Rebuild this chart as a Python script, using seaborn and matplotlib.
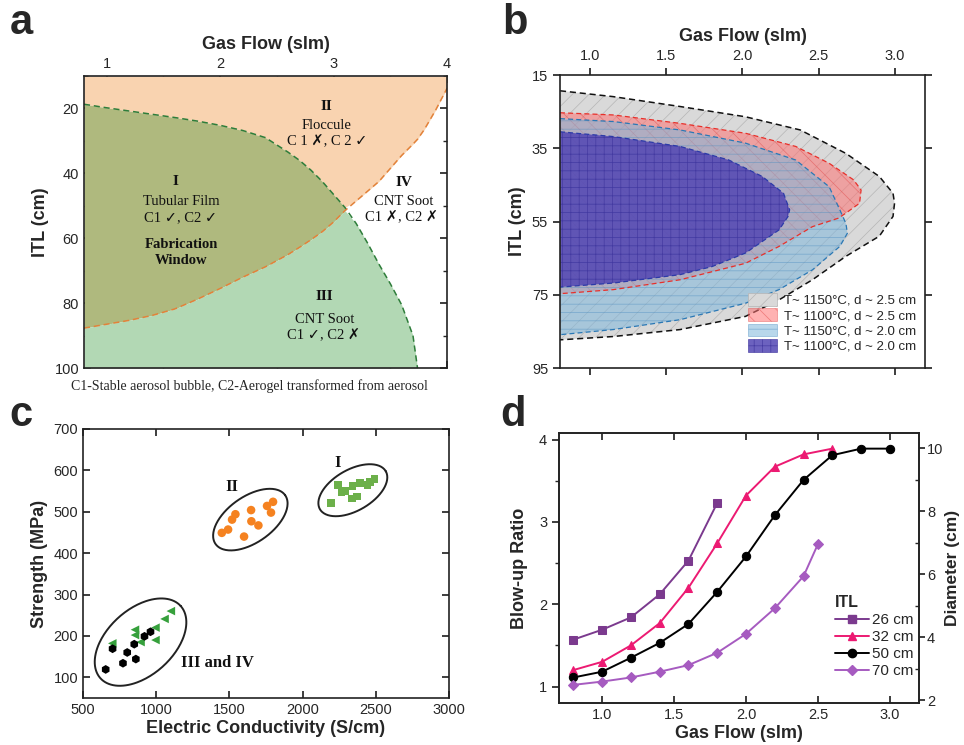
import numpy as np
import pandas as pd
import seaborn as sns
import matplotlib.pyplot as plt
from matplotlib.patches import Patch
from matplotlib.lines import Line2D
from matplotlib.ticker import MultipleLocator

sns.set_theme(style="ticks")
plt.rcParams['font.family'] = ['Liberation Sans', 'DejaVu Sans']
plt.rcParams['hatch.linewidth'] = 0.5
plt.rcParams['axes.linewidth'] = 1.2
SERIF = ['Liberation Serif', 'DejaVu Sans']

# ---------------- panel a: process map ----------------
flow_a = [0.8, 1.0, 1.2, 1.4, 1.6, 1.8, 2.0, 2.2, 2.4, 2.6, 2.7, 2.8, 2.9, 3.0, 3.1,
          3.2, 3.3, 3.4, 3.5, 3.6, 3.7, 3.74, 3.8, 3.9, 4.0]
green_edge = [18.7, 19.8, 20.8, 21.8, 22.8, 23.9, 25.2, 26.8, 29.0, 33.5, 36.0, 39.0, 42.5,
              46.5, 50.5, 55.5, 61.5, 68.0, 74.0, 80.5, 90.0, 100.0, np.nan, np.nan, np.nan]
orange_edge = [87.7, 86.5, 85.3, 83.8, 81.8, 78.8, 75.5, 72.0, 68.8, 65.0, 62.8, 60.5, 58.0,
               55.0, 51.5, 48.5, 45.5, 42.5, 38.5, 34.5, 31.0, 29.5, 26.5, 20.5, 13.8]

# ---------------- panel b: windows (ITL -> max gas flow) ----------------
itl_1150_25 = [19.3, 20.9, 23.6, 26.4, 30.0, 36.4, 42.7, 47.3, 50.0, 53.6, 59.0, 64.5, 70.9,
               76.4, 80.9, 84.5, 86.4, 87.3]
flow_1150_25 = [0.8, 1.15, 1.59, 2.02, 2.38, 2.68, 2.90, 2.99, 3.0, 2.99, 2.90, 2.68, 2.46,
                2.24, 2.02, 1.59, 1.15, 0.8]
itl_1100_25 = [25.3, 25.9, 28.2, 30.9, 34.5, 39.1, 43.6, 46.4, 50.0, 52.7, 54.1, 56.4, 61.8,
               66.4, 70.9, 73.6, 74.7]
flow_1100_25 = [0.8, 1.15, 1.59, 2.02, 2.35, 2.57, 2.73, 2.78, 2.77, 2.68, 2.63, 2.46, 2.24,
                2.02, 1.59, 1.15, 0.8]
itl_1150_20 = [26.9, 27.7, 30.0, 33.6, 38.2, 45.5, 51.8, 55.5, 58.2, 61.8, 68.2, 73.6, 77.3,
               81.8, 84.5, 85.9]
flow_1150_20 = [0.8, 1.15, 1.59, 2.02, 2.35, 2.57, 2.64, 2.68, 2.69, 2.64, 2.46, 2.24, 2.02,
                1.59, 1.15, 0.8]
itl_1100_20 = [30.5, 31.8, 34.5, 38.2, 42.7, 47.3, 51.8, 53.6, 57.3, 63.6, 67.3, 69.5, 71.8, 72.9]
flow_1100_20 = [0.8, 1.15, 1.59, 1.91, 2.13, 2.27, 2.31, 2.30, 2.24, 2.02, 1.80, 1.59, 1.15, 0.8]

# ---------------- panel c: strength vs conductivity ----------------
cond_I = [2193, 2243, 2266, 2291, 2341, 2336, 2370, 2393, 2443, 2461, 2491]
str_I = [521, 565, 547, 551, 563, 532, 537, 569, 565, 571, 580]
cond_II = [1448, 1491, 1518, 1541, 1600, 1648, 1650, 1698, 1757, 1784, 1798]
str_II = [449, 457, 481, 494, 440, 504, 477, 467, 514, 498, 524]
cond_III = [655, 702, 773, 802, 850, 861, 920, 961]
str_III = [119, 169, 134, 160, 180, 144, 199, 210]
cond_IV = [700, 855, 855, 893, 995, 995, 1057, 1100]
str_IV = [182, 215, 202, 185, 220, 190, 241, 260]

# ---------------- panel d: blow-up ratio ----------------
flow_26 = [0.8, 1.0, 1.2, 1.4, 1.6, 1.8]
ratio_26 = [1.57, 1.69, 1.84, 2.12, 2.53, 3.23]
flow_32 = [0.8, 1.0, 1.2, 1.4, 1.6, 1.8, 2.0, 2.2, 2.4, 2.6]
ratio_32 = [1.20, 1.30, 1.50, 1.77, 2.20, 2.74, 3.32, 3.67, 3.82, 3.89]
flow_50 = [0.8, 1.0, 1.2, 1.4, 1.6, 1.8, 2.0, 2.2, 2.4, 2.6, 2.8, 3.0]
ratio_50 = [1.11, 1.18, 1.35, 1.53, 1.76, 2.15, 2.58, 3.08, 3.51, 3.81, 3.89, 3.89]
flow_70 = [0.8, 1.0, 1.2, 1.4, 1.6, 1.8, 2.0, 2.2, 2.4, 2.5]
ratio_70 = [1.02, 1.06, 1.11, 1.18, 1.26, 1.41, 1.64, 1.95, 2.34, 2.73]

fig = plt.figure(figsize=(9.64, 7.45), dpi=100)
ax_a = fig.add_axes([0.0871, 0.506, 0.3766, 0.392])
ax_b = fig.add_axes([0.5809, 0.506, 0.3786, 0.3933])
ax_c = fig.add_axes([0.0861, 0.0631, 0.3797, 0.3611])
ax_d = fig.add_axes([0.5799, 0.0564, 0.3730, 0.3624])

# ---- a ----
x = np.array(flow_a)
g = np.array(green_edge)
o = np.array(orange_edge)
g_fill = np.where(np.isnan(g), 100, g)
ax_a.fill_between(x, 10, np.minimum(g_fill, o), color='#f9d3b0', lw=0)
ax_a.fill_between(x, g_fill, o, where=g_fill <= o, interpolate=True, color='#afb97e', lw=0)
ax_a.fill_between(x, np.maximum(g_fill, o), 100, color='#b2d8b4', lw=0)
ax_a.plot(x, g, ls=(0, (4, 2.5)), color='#2e7d3a', lw=1.1)
ax_a.plot(x, o, ls=(0, (4, 2.5)), color='#e2823a', lw=1.1)
ax_a.set_xlim(0.8, 4.0)
ax_a.set_ylim(100, 10)
ax_a.xaxis.tick_top()
ax_a.xaxis.set_label_position('top')
ax_a.xaxis.set_major_locator(MultipleLocator(1))
ax_a.xaxis.set_minor_locator(MultipleLocator(0.5))
ax_a.yaxis.set_major_locator(MultipleLocator(20))
ax_a.yaxis.set_minor_locator(MultipleLocator(10))
ax_a.tick_params(axis='x', which='both', direction='in', top=True, bottom=True, labelsize=10.5)
ax_a.tick_params(axis='y', which='both', direction='in', left=True, right=True, labelsize=10.5)
ax_a.tick_params(which='major', length=5)
ax_a.tick_params(which='minor', length=3)
ax_a.set_xlabel('Gas Flow (slm)', fontsize=13, fontweight='bold', labelpad=6)
ax_a.set_ylabel('ITL (cm)', fontsize=13, fontweight='bold', labelpad=4)

def txt(ax, xx, yy, s, size=10.5, bold=False):
    ax.text(xx, yy, s, ha='center', va='center', fontsize=size, family=SERIF,
            fontweight='bold' if bold else 'normal', color='#111111')

txt(ax_a, 2.94, 19.3, 'II', 11, True)
txt(ax_a, 2.94, 25.4, 'Floccule')
txt(ax_a, 2.94, 30.3, 'C 1 ✗, C 2 ✓')
txt(ax_a, 1.61, 42.4, 'I', 11, True)
txt(ax_a, 1.66, 48.7, 'Tubular Film')
txt(ax_a, 1.65, 53.8, 'C1 ✓, C2 ✓')
txt(ax_a, 1.66, 62.0, 'Fabrication', 10.5, True)
txt(ax_a, 1.66, 66.9, 'Window', 10.5, True)
txt(ax_a, 3.62, 42.9, 'IV', 11, True)
txt(ax_a, 3.62, 48.7, 'CNT Soot')
txt(ax_a, 3.60, 53.8, 'C1 ✗, C2 ✗')
txt(ax_a, 2.92, 78.0, 'III', 11, True)
txt(ax_a, 2.92, 85.1, 'CNT Soot')
txt(ax_a, 2.91, 90.0, 'C1 ✓, C2 ✗')
fig.text(0.259, 0.482, 'C1-Stable aerosol bubble, C2-Aerogel transformed from aerosol',
         ha='center', va='center', fontsize=10, family=SERIF)

# ---- b ----
windows = [
    (itl_1150_25, flow_1150_25, '#d9d9d9', 1.0, '//', '#b5b5b5', '#111111', 'T~ 1150°C, d ~ 2.5 cm'),
    (itl_1100_25, flow_1100_25, '#ff7373', 0.55, '\\\\', '#e04848', '#e8302a', 'T~ 1100°C, d ~ 2.5 cm'),
    (itl_1150_20, flow_1150_20, '#7fb7dc', 0.55, '--', '#4a8cc0', '#2a78b5', 'T~ 1150°C, d ~ 2.0 cm'),
    (itl_1100_20, flow_1100_20, '#5246b4', 0.85, '++', '#40369e', '#2c3aa8', 'T~ 1100°C, d ~ 2.0 cm'),
]
handles_b = []
for itl, fl, fc, al, hat, hc, lc, lab in windows:
    ax_b.fill_betweenx(itl, 0.8, fl, facecolor=fc, alpha=al, hatch=hat, edgecolor=hc, lw=0)
    ax_b.plot(fl, itl, ls=(0, (4, 2.5)), color=lc, lw=1.1 if lc == '#111111' else 0.9)
    handles_b.append(Patch(facecolor=fc, alpha=al, hatch=hat, edgecolor=hc, lw=0.5, label=lab))
ax_b.set_xlim(0.8, 3.2)
ax_b.set_ylim(95, 15)
ax_b.xaxis.tick_top()
ax_b.xaxis.set_label_position('top')
ax_b.xaxis.set_major_locator(MultipleLocator(0.5))
ax_b.set_yticks([15, 35, 55, 75, 95])
ax_b.tick_params(axis='both', which='major', direction='out', length=5, labelsize=10.5)
ax_b.tick_params(axis='x', bottom=True, top=True)
ax_b.tick_params(axis='y', left=True, right=True)
ax_b.set_xlabel('Gas Flow (slm)', fontsize=13, fontweight='bold', labelpad=6)
ax_b.set_ylabel('ITL (cm)', fontsize=13, fontweight='bold', labelpad=4)
ax_b.legend(handles=handles_b, loc='lower right', bbox_to_anchor=(1.0, 0.02), frameon=False,
            fontsize=9.5, handlelength=2.2, handleheight=1.1, labelspacing=0.12,
            handletextpad=0.5, borderpad=0.2)

# ---- c ----
sns.scatterplot(x=cond_I, y=str_I, marker='s', color='#6cb04a', s=32, edgecolor='none', ax=ax_c)
sns.scatterplot(x=cond_II, y=str_II, marker='o', color='#f58220', s=38, edgecolor='none', ax=ax_c)
sns.scatterplot(x=cond_IV, y=str_IV, marker='<', color='#36a03c', s=38, edgecolor='none', ax=ax_c)
sns.scatterplot(x=cond_III, y=str_III, marker='h', color='black', s=40, edgecolor='none', ax=ax_c)
ax_c.set_xlim(500, 3000)
ax_c.set_ylim(50, 700)

pos = ax_c.get_position()
w_px = fig.get_figwidth() * fig.dpi * pos.width
h_px = fig.get_figheight() * fig.dpi * pos.height
ux = 2500 / w_px
uy = 650 / h_px
t = np.linspace(0, 2 * np.pi, 200)
ring_centres = [(2343, 552), (1643, 481), (893, 185)]
ring_axes = [(38, 20.5, 30), (42.5, 23, 35), (54, 33, 42)]
for (cx, cy), (ra, rb, ang) in zip(ring_centres, ring_axes):
    th = np.deg2rad(ang)
    dx = ra * np.cos(t) * np.cos(th) - rb * np.sin(t) * np.sin(th)
    dy = ra * np.cos(t) * np.sin(th) + rb * np.sin(t) * np.cos(th)
    ax_c.plot(cx + dx * ux, cy + dy * uy, color='#222222', lw=1.4)

for xx, yy, s in [(2239, 618, 'I'), (1516, 560, 'II'), (1420, 134, 'III and IV')]:
    ax_c.text(xx, yy, s, ha='center', va='center', fontsize=12, fontweight='bold',
              family=SERIF, color='#111111')
ax_c.xaxis.set_major_locator(MultipleLocator(500))
ax_c.yaxis.set_major_locator(MultipleLocator(100))
ax_c.tick_params(axis='both', which='major', direction='in', length=5, labelsize=10.5,
                 top=True, right=True)
ax_c.set_xlabel('Electric Conductivity (S/cm)', fontsize=13, fontweight='bold', labelpad=2)
ax_c.set_ylabel('Strength (MPa)', fontsize=13, fontweight='bold', labelpad=4)

# ---- d ----
series_d = [
    (flow_26, ratio_26, '#7b3a8e', 's', '26 cm'),
    (flow_32, ratio_32, '#ec1a72', '^', '32 cm'),
    (flow_50, ratio_50, 'black', 'o', '50 cm'),
    (flow_70, ratio_70, '#a65bc0', 'D', '70 cm'),
]
handles_d = []
for fl, rt, col, mk, lab in series_d:
    df = pd.DataFrame({'flow': fl, 'ratio': rt})
    sns.lineplot(data=df, x='flow', y='ratio', color=col, marker=mk, markersize=6 if mk != 'D' else 5,
                 markeredgecolor=col, lw=1.4, ax=ax_d, legend=False)
    handles_d.append(Line2D([], [], color=col, marker=mk, markersize=6 if mk != 'D' else 5,
                            lw=1.4, label=lab))
ax_d.set_xlim(0.7, 3.2)
ax_d.set_ylim(0.8, 4.08)
ax_d.xaxis.set_major_locator(MultipleLocator(0.5))
ax_d.yaxis.set_major_locator(MultipleLocator(1))
ax_d.yaxis.set_minor_locator(MultipleLocator(0.5))
ax_d.tick_params(axis='both', which='major', direction='out', length=5, labelsize=10.5)
ax_d.tick_params(axis='x', top=True, direction='in')
ax_d.tick_params(axis='y', which='minor', direction='out', length=3)
ax_d.set_xlabel('Gas Flow (slm)', fontsize=13, fontweight='bold', labelpad=2)
ax_d.set_ylabel('Blow-up Ratio', fontsize=13, fontweight='bold', labelpad=8)
leg = ax_d.legend(handles=handles_d, title='ITL', loc='upper left', bbox_to_anchor=(0.73, 0.45),
                  frameon=False, fontsize=11, handlelength=2.2, labelspacing=0.2,
                  handletextpad=0.2, alignment='left',
                  title_fontproperties={'weight': 'bold', 'size': 11.5})

ax_d2 = ax_d.twinx()
ax_d2.set_ylim(1.92, 10.48)
ax_d2.yaxis.set_major_locator(MultipleLocator(2))
ax_d2.yaxis.set_minor_locator(MultipleLocator(1))
ax_d2.tick_params(axis='y', which='major', direction='out', length=4, pad=2, labelsize=10.5)
ax_d2.tick_params(axis='y', which='minor', direction='in', length=3)
ax_d2.set_ylabel('Diameter (cm)', fontsize=12.5, fontweight='bold', labelpad=1)

for ax in [ax_a, ax_b, ax_c, ax_d, ax_d2]:
    for sp in ax.spines.values():
        sp.set_visible(True)
        sp.set_linewidth(1.2)
        sp.set_color('#222222')

for xx, yy, s in [(0.010, 0.942, 'a'), (0.521, 0.942, 'b'), (0.010, 0.416, 'c'), (0.519, 0.416, 'd')]:
    fig.text(xx, yy, s, fontsize=30, fontweight='bold', va='bottom', ha='left')

fig.savefig('out.png', dpi=100)
